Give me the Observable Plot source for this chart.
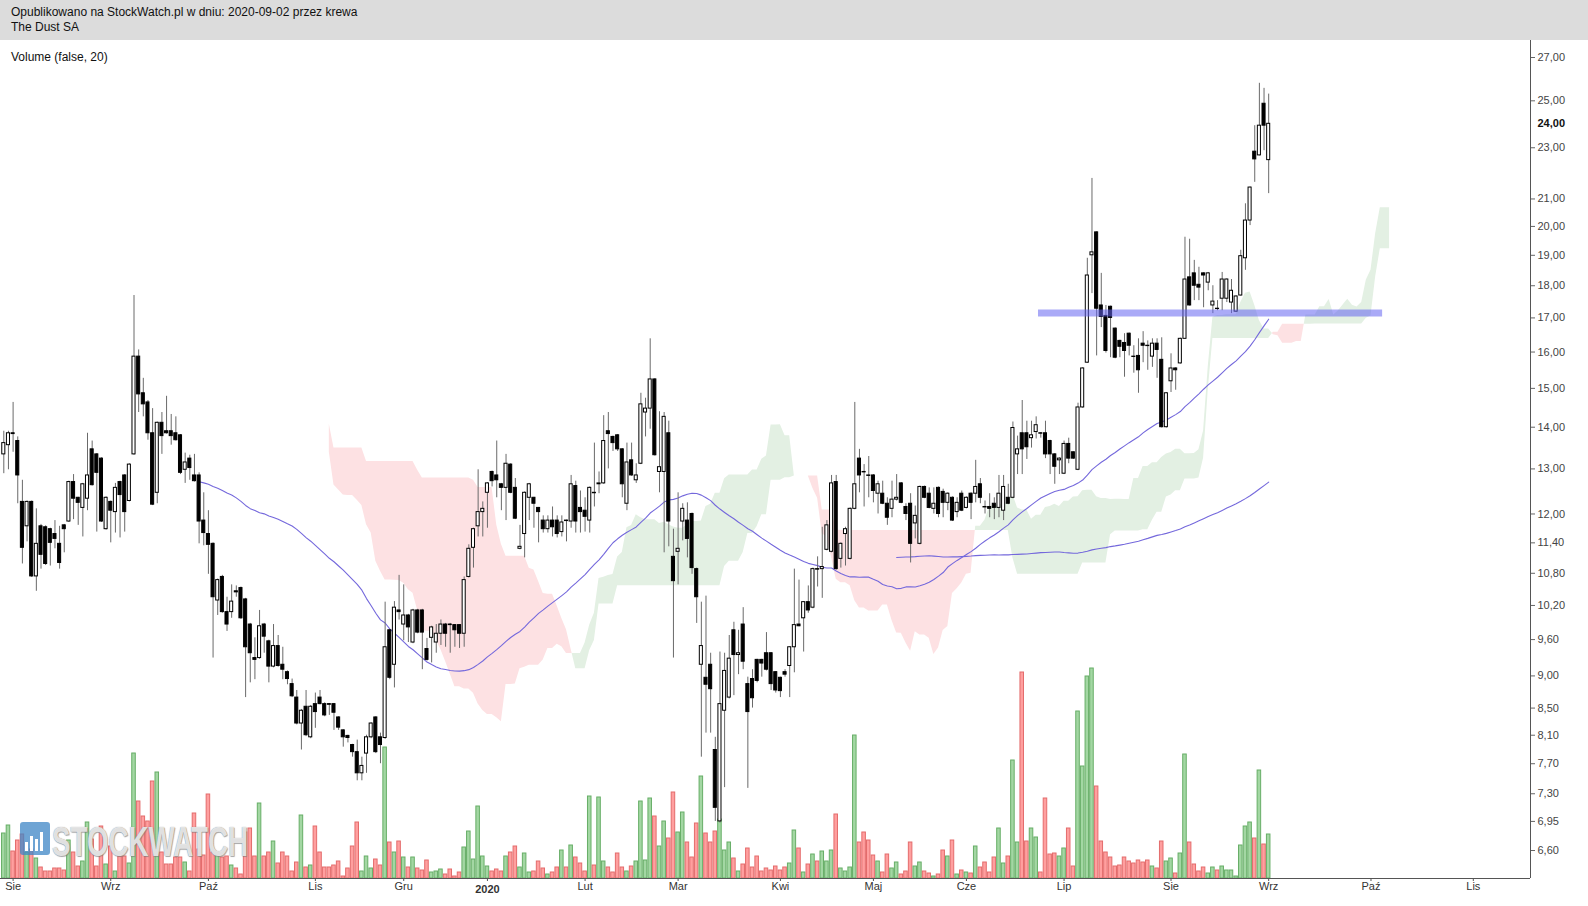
<!DOCTYPE html>
<html><head><meta charset="utf-8">
<script src="https://cdn.jsdelivr.net/npm/d3@7"></script>
<script src="https://cdn.jsdelivr.net/npm/@observablehq/plot@0.6"></script>
<style>
body{margin:0;background:#fff;font-family:"Liberation Sans",Arial,sans-serif;}
#wrap{position:relative;width:1588px;height:906px;overflow:hidden;background:#fff;}
#hdr{position:absolute;left:0;top:0;width:1588px;height:40px;background:#dcdcdc;font-size:12px;color:#111;}
#hdr div{position:absolute;left:11px;white-space:nowrap;}
.layer{position:absolute;left:0;top:40px;}
#vlabel{position:absolute;left:11px;top:50px;font-size:12px;color:#111;}
#wm{position:absolute;left:20px;top:822px;height:38px;pointer-events:none;}
#wm .t{position:absolute;left:32px;top:-4px;font:bold 42px "Liberation Sans",Arial,sans-serif;color:rgba(255,255,255,0.8);
 text-shadow:0 0 1px rgba(110,110,110,0.9),1px 1px 1px rgba(120,120,120,0.6);transform:scaleX(0.66);transform-origin:left center;white-space:nowrap;}
</style></head><body>
<div id="wrap">
  <div id="hdr"><div style="top:5px">Opublikowano na StockWatch.pl w dniu: 2020-09-02 przez krewa</div><div style="top:20px">The Dust SA</div></div>
  <div id="vol" class="layer"></div>
  <div id="wm"><svg width="30" height="33" viewBox="0 0 30 33"><rect x="0" y="0" width="30" height="33" rx="3" fill="#3d86c6" fill-opacity="0.75"/><rect x="5" y="20" width="3" height="9" fill="#fff"/><rect x="10" y="14" width="3" height="15" fill="#fff"/><rect x="15" y="17" width="3" height="12" fill="#fff"/><rect x="20" y="10" width="3" height="19" fill="#fff"/></svg><div class="t">STOCKWATCH</div></div>
  <div id="price" class="layer"></div>
  <div id="vlabel">Volume (false, 20)</div>
</div>
<script>
// ---- data (The Dust SA, daily, 2019-07-30 .. 2020-09-02) ----
const open = [
13.34,13.56,13.85,13.66,12.26,11.74,12.26,10.74,11.74,11.72,
11.68,11.58,11.38,11.76,11.84,12.70,12.35,12.13,12.33,13.46,
13.34,13.24,11.68,12.26,12.04,12.70,12.85,12.28,13.34,15.87,
14.87,14.63,13.85,12.46,14.11,13.90,13.90,13.85,13.80,12.98,
13.24,12.85,12.85,11.86,11.58,11.38,10.29,10.73,10.08,10.08,
10.46,10.52,10.31,9.86,9.29,9.29,9.86,9.57,9.15,9.49,
9.18,9.06,8.87,8.66,8.27,8.52,8.07,8.56,8.66,8.56,
8.56,8.56,8.36,8.17,8.09,7.96,7.86,7.57,7.84,8.07,
8.36,8.07,8.06,9.76,9.18,10.11,9.86,10.02,9.55,10.11,
10.11,9.44,9.63,9.55,9.70,9.86,9.86,9.85,9.85,9.70,
10.73,11.30,11.74,12.04,12.46,12.93,12.85,12.65,12.57,13.10,
12.57,11.28,11.58,12.35,12.35,12.13,11.86,11.68,11.86,11.86,
11.62,11.86,11.84,12.61,12.13,12.07,11.86,12.46,12.65,12.67,
13.90,13.76,13.80,13.46,12.22,13.20,12.74,13.12,14.37,14.47,
15.24,12.93,12.93,13.85,11.12,11.22,11.84,11.86,12.00,10.88,
9.18,8.97,9.18,7.89,6.95,8.46,8.66,9.76,9.34,9.86,
8.87,8.95,9.26,9.26,9.37,9.37,9.06,8.97,9.06,9.16,
9.47,9.86,9.97,10.26,10.16,10.88,10.88,11.26,11.22,12.70,
11.08,11.58,11.08,12.11,13.24,12.93,12.85,12.85,12.44,12.44,
12.22,12.11,12.31,12.67,12.15,12.22,11.80,11.38,12.59,12.44,
12.11,12.57,12.48,12.24,12.35,12.04,12.44,12.13,12.44,12.44,
12.65,12.15,12.15,12.22,12.13,12.07,12.35,12.35,13.34,13.85,
13.85,13.73,13.88,13.85,13.85,13.66,13.34,13.20,12.89,13.59,
13.39,12.98,14.50,15.70,19.00,19.79,17.38,17.06,17.34,16.68,
16.32,16.26,16.53,15.87,15.89,16.24,16.18,15.87,16.24,15.78,
14.00,15.19,15.54,15.68,16.38,18.27,18.40,18.03,18.40,18.10,
17.38,17.28,17.59,17.59,17.47,17.19,17.69,18.90,20.21,22.84,
22.69,24.87,22.50];
const high = [
13.90,13.90,14.63,13.76,12.74,12.28,12.28,12.11,11.78,11.75,
11.70,11.86,11.74,11.78,12.72,12.87,12.36,12.67,13.85,13.66,
13.36,13.26,12.37,12.28,12.67,12.72,12.87,13.12,17.69,16.06,
15.27,14.68,14.47,14.13,14.37,14.79,14.32,14.26,13.82,13.37,
13.32,13.34,12.91,12.46,12.07,11.40,10.69,10.76,10.35,10.58,
10.56,10.54,10.33,9.88,9.63,10.11,9.88,9.59,9.86,9.67,
9.47,9.08,8.95,8.77,8.48,8.77,8.54,8.73,8.77,8.58,
8.57,8.57,8.37,8.18,8.10,7.97,8.03,7.79,8.10,8.28,
8.37,8.13,10.26,9.77,10.27,10.76,10.58,10.04,10.13,10.13,
10.13,9.62,9.83,9.86,9.94,9.88,9.88,9.86,9.86,10.73,
11.36,11.70,12.98,12.26,12.69,12.95,13.66,12.67,13.34,13.12,
12.78,11.76,12.48,12.67,12.36,12.14,11.96,11.96,12.15,11.96,
11.96,11.87,12.85,12.72,12.50,12.35,12.59,13.61,12.93,14.29,
14.37,13.78,13.82,13.48,13.61,13.61,13.12,14.87,14.74,16.38,
15.26,14.39,14.37,14.15,11.68,12.46,12.22,12.24,12.02,10.90,
10.26,10.37,9.37,8.07,9.39,9.37,9.67,9.90,9.76,10.16,
8.98,9.10,9.27,9.27,9.72,9.38,9.07,8.98,9.10,9.48,
10.88,10.67,10.27,10.56,10.90,11.12,11.72,11.86,12.85,12.85,
11.40,11.72,12.13,14.63,13.46,13.10,13.29,12.87,12.72,12.72,
12.35,12.72,12.87,12.69,12.22,12.44,12.17,12.61,12.61,12.57,
12.57,12.59,12.54,12.46,12.37,12.35,12.50,12.37,12.46,13.20,
12.78,12.28,12.44,12.35,12.85,12.85,12.65,14.13,13.78,14.68,
14.15,14.15,14.26,13.86,14.15,13.68,13.36,13.26,13.66,13.73,
13.40,14.61,15.56,18.90,21.78,19.81,18.40,17.38,17.36,16.70,
16.34,16.53,16.55,16.18,16.38,16.59,16.32,16.38,16.38,16.41,
14.89,15.95,15.56,16.40,19.62,19.55,18.83,18.60,18.42,18.43,
18.00,17.53,18.43,18.22,18.20,17.68,19.17,20.82,21.45,23.92,
25.79,25.56,25.30];
const low = [
12.89,12.98,13.39,12.22,10.98,11.42,10.72,10.46,10.88,10.95,
10.94,11.28,10.88,11.20,11.82,11.88,11.76,11.52,12.07,12.61,
11.62,11.82,11.66,11.40,11.60,11.50,11.62,12.26,13.32,14.37,
14.26,13.68,12.18,12.22,13.34,13.83,13.56,13.66,12.87,12.67,
12.74,12.70,11.38,11.34,10.78,9.29,10.02,10.06,9.74,9.97,
10.35,9.95,8.66,8.89,8.94,9.27,9.37,8.89,9.13,9.14,
8.94,8.86,8.66,8.25,7.89,8.08,8.05,8.20,8.55,8.37,
8.39,8.17,8.17,7.93,7.99,7.79,7.47,7.47,7.57,8.05,
7.84,7.70,8.04,8.94,8.81,9.94,9.58,9.55,9.53,9.70,
9.10,9.24,9.21,9.37,9.50,9.47,9.37,9.47,9.45,9.47,
10.71,10.90,11.52,11.52,11.70,12.59,12.35,12.07,11.86,12.44,
11.88,11.26,11.10,11.86,11.70,11.40,11.60,11.60,11.52,11.50,
11.52,11.42,11.70,11.60,11.60,11.62,11.60,12.15,12.44,12.65,
13.00,13.41,13.41,12.35,12.07,12.83,12.67,13.10,13.76,13.95,
13.30,12.46,11.20,11.32,9.29,10.58,11.44,11.10,10.78,9.88,
7.79,8.13,8.13,6.95,6.93,7.38,8.64,8.69,9.02,9.10,
7.37,8.50,8.89,8.98,9.08,8.77,8.73,8.66,8.98,8.66,
9.05,9.82,9.39,10.06,10.14,10.54,10.33,11.24,11.20,10.86,
10.90,10.94,11.06,12.09,12.46,12.15,12.35,12.24,12.00,12.20,
11.76,11.92,12.28,12.22,11.86,11.00,11.48,11.36,12.33,12.11,
12.00,11.92,11.92,12.07,11.84,11.92,12.05,12.11,11.88,12.24,
12.22,12.00,11.92,11.88,11.92,11.86,12.20,12.33,12.87,12.87,
13.22,13.49,13.71,13.73,13.24,12.87,12.65,12.87,12.87,13.12,
13.22,12.96,14.48,15.68,17.75,15.89,16.71,15.97,15.84,15.81,
15.84,15.30,15.89,15.41,14.87,15.70,15.49,15.57,15.27,13.98,
13.98,14.89,14.95,15.66,16.36,17.36,17.53,17.53,17.31,17.84,
17.13,17.22,17.22,17.47,17.13,17.17,17.67,18.50,20.03,21.63,
22.67,22.88,21.20];
const close = [
13.61,13.85,13.83,12.85,11.30,12.26,10.74,11.38,11.16,10.98,
11.40,11.48,11.00,11.68,12.70,12.33,12.24,12.65,12.85,12.63,
12.91,11.84,12.35,12.07,12.57,12.41,12.04,13.10,15.87,14.84,
14.58,13.85,12.20,14.11,13.78,13.85,13.78,13.68,12.91,13.15,
13.02,12.72,11.84,11.60,11.36,10.35,10.67,10.08,9.86,10.27,
10.44,9.97,9.47,9.37,9.26,9.83,9.65,9.15,9.49,9.16,
9.10,8.95,8.68,8.27,8.46,8.10,8.52,8.44,8.56,8.39,
8.55,8.43,8.21,8.07,8.06,7.86,7.57,7.67,8.07,8.27,
7.86,7.96,9.47,8.97,10.16,10.08,10.02,9.81,10.11,9.72,
9.72,9.26,9.81,9.70,9.86,9.70,9.85,9.76,9.70,10.67,
11.28,11.68,12.04,12.11,12.67,12.72,12.74,12.57,13.12,12.46,
11.90,11.32,12.46,12.65,12.22,12.04,11.68,11.86,11.72,11.58,
11.82,11.85,12.65,11.84,12.04,11.94,12.57,12.45,12.67,13.66,
13.83,13.61,13.46,12.65,13.15,12.85,12.85,14.58,14.47,15.24,
13.32,13.04,14.26,11.84,10.65,11.28,12.11,11.48,10.90,10.35,
9.49,8.86,8.79,7.12,8.56,9.08,9.28,9.34,9.37,9.23,
8.44,8.65,8.92,9.20,9.10,8.87,8.77,8.76,9.02,9.47,
9.85,9.83,10.26,10.11,10.88,10.87,10.92,11.76,12.67,10.88,
11.38,11.68,12.11,12.65,12.85,12.92,12.84,12.50,12.65,12.22,
11.92,12.31,12.35,12.24,12.00,11.38,11.96,12.59,12.35,12.13,
12.22,12.00,12.24,12.44,11.86,12.24,12.07,12.35,12.24,12.59,
12.35,12.14,12.11,12.13,12.44,12.59,12.22,13.98,13.46,13.46,
13.51,13.80,14.05,13.84,13.34,13.34,13.05,13.24,13.59,13.24,
13.24,14.50,15.54,18.33,19.10,17.28,17.03,16.03,17.00,15.84,
16.15,16.03,16.18,15.86,15.49,16.18,16.17,16.24,16.06,14.00,
14.87,15.54,15.49,16.38,18.20,17.38,18.00,17.94,18.33,18.40,
17.50,17.27,18.20,18.20,17.84,17.66,18.97,20.21,21.43,22.53,
23.92,23.92,24.00];
// volume, thousands of shares
const volume = [
45,53,27,38,44,26,29,20,11,7,7,10,10,8,38,26,12,17,56,39,12,52,14,32,7,22,22,15,125,77,62,57,97,106,
26,14,14,21,21,16,7,65,29,23,84,26,26,21,22,13,10,4,46,50,22,75,
22,26,37,15,26,22,7,16,63,11,13,52,26,11,11,13,17,2,10,32,56,7,22,10,19,13,131,
36,26,37,21,11,21,10,8,18,6,7,9,4,9,2,6,31,47,19,72,22,12,7,9,7,22,26,32,11,25,6,7,17,10,4,6,11,28,11,33,21,15,7,82,13,81,17,11,6,25,11,7,12,
17,77,18,80,62,32,57,40,86,46,
66,36,21,55,102,45,36,47,59,28,
36,20,7,14,30,11,22,7,10,8,
12,8,11,15,48,30,6,14,24,17,
27,17,28,64,10,7,11,143,36,46,
38,23,17,6,24,10,16,4,7,36,
12,16,7,5,2,4,28,22,38,4,
8,6,5,32,11,16,6,21,50,15,
22,118,36,206,37,50,41,6,80,24,
25,22,30,50,12,167,112,202,210,92,
37,26,21,12,13,21,17,15,18,16,
18,12,10,37,17,20,5,25,124,
36,14,7,11,5,11,8,12,8,8,2,33,52,56,40,108,34,44];
// month ticks (trading-day index) and labels
const monthIdx = [2,23,44,67,86,104,125,145,167,187,207,228,251,272,294,316];
const monthLbl = ["Sie","Wrz","Paź","Lis","Gru","2020","Lut","Mar","Kwi","Maj","Cze","Lip","Sie","Wrz","Paź","Lis"];
const priceTicks = [27,25,23,21,20,19,18,17,16,15,14,13,12,11.4,10.8,10.2,9.6,9,8.5,8.1,7.7,7.3,6.95,6.6];
const support = [{level:17.15, from:222.5, to:296.5}];
const lastClose = close[close.length-1];

// ---- indicators derived from the data ----
const N = close.length;
const idx = d3.range(N);
const up = i => close[i] >= open[i];
const sma = (k, from) => idx.filter(i => i >= from).map(i => ({i, v: d3.mean(close.slice(Math.max(0, i-k+1), i+1))}));
const ma50 = sma(50, 42), ma200 = sma(200, 192);
const mid = (p, i) => { const s = Math.max(0, i-p+1); return (d3.max(high.slice(s, i+1)) + d3.min(low.slice(s, i+1))) / 2; };
const shift = 26, cloudFrom = 44;
const cloud = []; let seg = 0, prev = null;
for (let i = cloudFrom; i < N; i++) {
  const a = (mid(9,i) + mid(26,i)) / 2, b = mid(52,i), x = i + shift, u = a >= b;
  if (prev && prev.u !== u) {
    const d0 = prev.a - prev.b, d1 = a - b, t = d0 / (d0 - d1);
    const xc = prev.x + t, yc = prev.a + t * (a - prev.a);
    cloud.push({x: xc, a: yc, b: yc, seg, u: prev.u});
    seg++;
    cloud.push({x: xc, a: yc, b: yc, seg, u});
  }
  cloud.push({x, a, b, seg, u});
  prev = {x, a, b, u};
}
const fmt = d => d.toFixed(2).replace(".", ",");
const labelOf = new Map(monthIdx.map((d, k) => [d, monthLbl[k]]));

const X0 = -0.71, X1 = 328.3;
const common = {
  width: 1588, height: 866, marginLeft: 0, marginRight: 58, marginTop: 0, marginBottom: 28,
  style: {background: "transparent", fontFamily: "'Liberation Sans', Arial, sans-serif", fontSize: "11px", color: "#444"}
};

const volPlot = Plot.plot({
  ...common,
  x: {domain: [X0, X1], range: [0, 1530], axis: null},
  y: {domain: [0, 209], range: [838, 629], axis: null},
  color: {type: "identity"},
  marks: [
    Plot.rect(idx, {x1: i => i - 0.38, x2: i => i + 0.38, y1: 0, y2: i => volume[i],
      fill: i => up(i) ? "#a3d7a3" : "#ff9f9f", stroke: i => up(i) ? "#67ae67" : "#e46c6c", strokeWidth: 1}),
    Plot.ruleY([0], {stroke: "#555"}),
    Plot.axisX(monthIdx, {anchor: "bottom", tickSize: 3, tickPadding: 1, label: null,
      tickFormat: d => d === 104 ? "" : labelOf.get(d), fill: "#333", stroke: "#555", fontSize: 11}),
    Plot.text([104], {x: d => d, frameAnchor: "bottom", lineAnchor: "top", dy: 7, text: d => labelOf.get(d), fontWeight: "bold", fill: "#333", fontSize: 11})
  ]
});
document.getElementById("vol").append(volPlot);

const pricePlot = Plot.plot({
  ...common,
  x: {domain: [X0, X1], range: [0, 1530], axis: null},
  y: {type: "log", domain: [6.6, 27], range: [810, 17], axis: null},
  marks: [
    Plot.areaY(cloud.filter(d => d.u), {x: "x", y1: "a", y2: "b", z: "seg", fill: "#e3f0e3"}),
    Plot.areaY(cloud.filter(d => !d.u), {x: "x", y1: "a", y2: "b", z: "seg", fill: "#fde1e3"}),
    Plot.line(ma50, {x: "i", y: "v", stroke: "#7468dc", strokeWidth: 1.1}),
    Plot.line(ma200, {x: "i", y: "v", stroke: "#7468dc", strokeWidth: 1.1}),
    Plot.ruleX(idx, {x: i => i, y1: i => low[i], y2: i => high[i], stroke: "#6a6a6a", strokeWidth: 1}),
    Plot.rect(idx.filter(up), {x1: i => i - 0.33, x2: i => i + 0.33, y1: i => open[i], y2: i => close[i], fill: "white", stroke: "black", strokeWidth: 1}),
    Plot.rect(idx.filter(i => !up(i)), {x1: i => i - 0.33, x2: i => i + 0.33, y1: i => open[i], y2: i => close[i], fill: "black", stroke: "black", strokeWidth: 1}),
    Plot.ruleY(support, {y: "level", x1: "from", x2: "to", stroke: "#6464f0", strokeOpacity: 0.55, strokeWidth: 7}),
    Plot.ruleX([X1], {stroke: "#555"}),
    Plot.axisY(priceTicks, {anchor: "right", tickSize: 4, tickPadding: 3, tickFormat: fmt, label: null, fill: "#444", stroke: "#666", fontSize: 11}),
    Plot.text([lastClose], {x: X1, y: d => d, text: d => fmt(d), dx: 7, textAnchor: "start", fontWeight: "bold", fill: "#111", fontSize: 11})
  ]
});
document.getElementById("price").append(pricePlot);
</script>
</body></html>
